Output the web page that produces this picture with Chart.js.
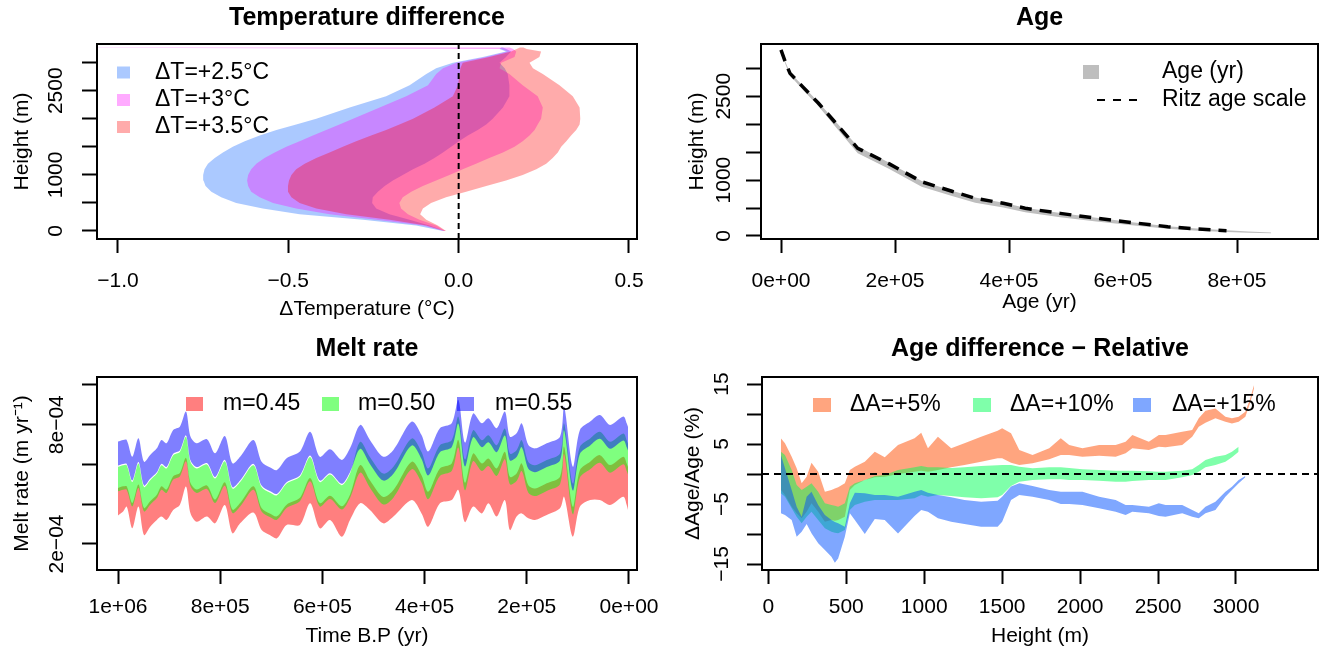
<!DOCTYPE html>
<html>
<head>
<meta charset="utf-8">
<title>Model output panels</title>
<script src="https://cdn.jsdelivr.net/npm/chart.js@4.4.1/dist/chart.umd.min.js"></script>
<style>
    body { margin: 0; background: #fff; }
    #page { position: relative; width: 1321px; height: 659px; background: #fff; }
    #page canvas { position: absolute; }
</style>
</head>
<body>
<div id="page">
    <canvas id="tempChart" width="660" height="330" style="left:0px; top:0px;"></canvas>
    <canvas id="ageChart" width="661" height="330" style="left:660px; top:0px;"></canvas>
    <canvas id="meltChart" width="660" height="329" style="left:0px; top:330px;"></canvas>
    <canvas id="diffChart" width="661" height="329" style="left:660px; top:330px;"></canvas>
</div>
<script>
// ---------- data ----------

// temperature difference (deg C) against height (m), lower / upper edge of each band
const tempHeights = [0, 100, 200, 300, 400, 500, 600, 700, 800, 900, 1000, 1100, 1200, 1300, 1400, 1500, 1600, 1700, 1800, 1900, 2000, 2200, 2400, 2600, 2800, 2900, 3000, 3100, 3200, 3245, 3270];
const dT25Low = [-0.046, -0.125, -0.281, -0.467, -0.575, -0.653, -0.697, -0.726, -0.743, -0.749, -0.750, -0.746, -0.736, -0.716, -0.692, -0.663, -0.628, -0.584, -0.535, -0.477, -0.418, -0.320, -0.213, -0.144, -0.095, -0.066, -0.017, 0.071, 0.139, 0.120, 0.125];
const dT25High = [-0.041, -0.086, -0.144, -0.203, -0.242, -0.254, -0.252, -0.237, -0.217, -0.193, -0.164, -0.134, -0.100, -0.071, -0.046, -0.022, 0.001, 0.027, 0.056, 0.081, 0.100, 0.130, 0.149, 0.149, 0.144, 0.135, 0.120, 0.139, 0.154, 0.140, 0.130];
const dT30Low = [-0.044, -0.105, -0.242, -0.379, -0.477, -0.545, -0.584, -0.609, -0.618, -0.621, -0.618, -0.609, -0.594, -0.570, -0.540, -0.506, -0.467, -0.428, -0.389, -0.350, -0.310, -0.232, -0.154, -0.090, -0.066, -0.046, -0.007, 0.081, 0.144, 0.125, -1.2];
const dT30High = [-0.039, -0.066, -0.115, -0.149, -0.169, -0.174, -0.164, -0.139, -0.105, -0.066, -0.027, 0.012, 0.051, 0.090, 0.130, 0.164, 0.188, 0.208, 0.223, 0.232, 0.242, 0.247, 0.232, 0.188, 0.149, 0.120, 0.125, 0.164, 0.169, 0.160, 0.150];
const dT35Low = [-0.041, -0.095, -0.203, -0.330, -0.418, -0.467, -0.491, -0.501, -0.501, -0.498, -0.491, -0.477, -0.452, -0.418, -0.379, -0.340, -0.301, -0.257, -0.213, -0.174, -0.134, -0.071, -0.017, -0.002, 0.003, 0.005, 0.012, 0.090, 0.154, 0.170, 0.180];
const dT35High = [-0.037, -0.061, -0.095, -0.113, -0.105, -0.081, -0.037, 0.022, 0.081, 0.139, 0.188, 0.228, 0.257, 0.276, 0.291, 0.301, 0.316, 0.330, 0.345, 0.355, 0.357, 0.355, 0.335, 0.296, 0.247, 0.218, 0.208, 0.237, 0.242, 0.200, 0.190];
const tempLabels = ['\u0394T=+2.5\u00b0C', '\u0394T=+3\u00b0C', '\u0394T=+3.5\u00b0C'];
const tempXTicks = [-1.0, -0.5, 0.0, 0.5];
const tempYTicks = [0, 500, 1000, 1500, 2000, 2500, 3000];
const tempYLabels = [0, 1000, 2500];
const tempRefLine = 0;

// age (yr) against height (m)
const ageYears = [0, 8000, 15800, 40000, 65800, 100000, 134600, 190000, 246800, 300000, 340800, 390000, 428400, 490000, 553200, 620000, 678500, 730000, 781600, 820000, 860000];
const ageHeightTop = [3335, 3110, 2925, 2670, 2395, 2000, 1600, 1310, 985, 810, 690, 595, 505, 412, 325, 243, 176, 132, 104, 80, 63];
const ageHeightBottom = [3320, 3070, 2870, 2600, 2320, 1900, 1480, 1200, 880, 715, 595, 510, 425, 335, 258, 190, 128, 92, 72, 58, 50];
const ritzYears = [0, 8000, 15800, 40000, 65800, 100000, 134600, 190000, 246800, 300000, 340800, 390000, 428400, 490000, 553200, 620000, 678500, 730000, 781600];
const ritzHeight = [3330, 3100, 2910, 2650, 2374, 1974, 1569, 1290, 971, 800, 674, 585, 496, 405, 317, 235, 167, 125, 95];
const ageXTicks = [0, 200000, 400000, 600000, 800000];
const ageYTicks = [0, 500, 1000, 1500, 2000, 2500, 3000];
const ageYLabels = [0, 1000, 2500];

// melt rate (m/yr) against time before present (yr)
const meltTime = [1000000, 990000, 983000, 972000, 960000, 949000, 937000, 924000, 915000, 905000, 892000, 879000, 867000, 858000, 846000, 826000, 810000, 791000, 776000, 761000, 735000, 719000, 703000, 689000, 670000, 644000, 624000, 605000, 585000, 562000, 546000, 526000, 507000, 481000, 461000, 425000, 406000, 393000, 370000, 347000, 334000, 321000, 305000, 288000, 275000, 259000, 243000, 233000, 220000, 210000, 197000, 184000, 161000, 135000, 127000, 110000, 96000, 76000, 57000, 37000, 11000, 4500, 2000];
const m45Low = [3.43e-4, 3.63e-4, 3.88e-4, 2.79e-4, 3.88e-4, 2.45e-4, 2.87e-4, 3.21e-4, 3.38e-4, 3.21e-4, 3.71e-4, 3.96e-4, 4.89e-4, 3.54e-4, 3.12e-4, 3.38e-4, 3.04e-4, 3.96e-4, 2.54e-4, 3.04e-4, 3.58e-4, 2.70e-4, 2.45e-4, 2.29e-4, 2.96e-4, 2.96e-4, 4.05e-4, 2.79e-4, 3.21e-4, 2.37e-4, 3.21e-4, 4.05e-4, 3.71e-4, 3.04e-4, 3.38e-4, 4.21e-4, 3.54e-4, 2.87e-4, 4.05e-4, 4.21e-4, 4.72e-4, 3.10e-4, 3.88e-4, 3.54e-4, 4.05e-4, 3.38e-4, 4.21e-4, 2.70e-4, 3.38e-4, 3.54e-4, 3.29e-4, 3.21e-4, 3.46e-4, 3.80e-4, 4.38e-4, 2.37e-4, 3.88e-4, 4.21e-4, 4.21e-4, 3.96e-4, 4.38e-4, 3.96e-4, 3.71e-4];
const m45High = [4.82e-4, 4.90e-4, 4.90e-4, 4.06e-4, 4.99e-4, 3.81e-4, 4.15e-4, 4.48e-4, 4.90e-4, 4.74e-4, 5.41e-4, 5.57e-4, 6.33e-4, 5.07e-4, 4.74e-4, 4.94e-4, 4.23e-4, 5.10e-4, 3.73e-4, 4.06e-4, 4.90e-4, 3.81e-4, 3.53e-4, 3.39e-4, 3.98e-4, 4.32e-4, 5.32e-4, 4.06e-4, 4.43e-4, 3.90e-4, 4.48e-4, 5.97e-4, 5.21e-4, 4.37e-4, 4.71e-4, 6.14e-4, 5.46e-4, 4.63e-4, 5.80e-4, 6.05e-4, 7.23e-4, 5.08e-4, 6.55e-4, 6.05e-4, 6.30e-4, 5.80e-4, 6.64e-4, 5.38e-4, 5.55e-4, 6.05e-4, 4.96e-4, 4.79e-4, 5.05e-4, 5.38e-4, 6.89e-4, 3.87e-4, 5.72e-4, 6.14e-4, 6.47e-4, 5.97e-4, 6.39e-4, 6.05e-4, 5.88e-4];
const m50Low = [4.65e-4, 4.73e-4, 4.73e-4, 3.89e-4, 4.82e-4, 3.64e-4, 3.98e-4, 4.31e-4, 4.73e-4, 4.57e-4, 5.24e-4, 5.40e-4, 6.16e-4, 4.90e-4, 4.57e-4, 4.77e-4, 4.06e-4, 4.93e-4, 3.56e-4, 3.89e-4, 4.73e-4, 3.64e-4, 3.36e-4, 3.22e-4, 3.81e-4, 4.15e-4, 5.15e-4, 3.89e-4, 4.26e-4, 3.73e-4, 4.31e-4, 5.59e-4, 4.83e-4, 3.99e-4, 4.33e-4, 5.76e-4, 5.08e-4, 4.25e-4, 5.42e-4, 5.67e-4, 6.85e-4, 4.70e-4, 6.17e-4, 5.67e-4, 5.92e-4, 5.42e-4, 6.26e-4, 5.00e-4, 5.17e-4, 5.67e-4, 4.58e-4, 4.41e-4, 4.67e-4, 5.00e-4, 6.51e-4, 3.49e-4, 5.34e-4, 5.76e-4, 6.09e-4, 5.59e-4, 6.01e-4, 5.67e-4, 5.50e-4];
const m50High = [5.88e-4, 5.96e-4, 5.96e-4, 5.12e-4, 6.05e-4, 4.87e-4, 5.21e-4, 5.54e-4, 5.96e-4, 5.80e-4, 6.47e-4, 6.63e-4, 7.39e-4, 6.13e-4, 5.80e-4, 6.00e-4, 5.29e-4, 6.16e-4, 4.79e-4, 5.12e-4, 5.96e-4, 4.87e-4, 4.59e-4, 4.45e-4, 5.04e-4, 5.38e-4, 6.38e-4, 5.12e-4, 5.49e-4, 4.96e-4, 5.54e-4, 7.14e-4, 6.38e-4, 5.54e-4, 5.88e-4, 7.31e-4, 6.63e-4, 5.80e-4, 6.97e-4, 7.22e-4, 8.40e-4, 6.25e-4, 7.72e-4, 7.22e-4, 7.47e-4, 6.97e-4, 7.81e-4, 6.55e-4, 6.72e-4, 7.22e-4, 6.13e-4, 5.96e-4, 6.22e-4, 6.55e-4, 8.06e-4, 5.04e-4, 6.89e-4, 7.31e-4, 7.64e-4, 7.14e-4, 7.56e-4, 7.22e-4, 7.05e-4];
const m55Low = [5.95e-4, 6.03e-4, 6.03e-4, 5.19e-4, 6.12e-4, 4.94e-4, 5.28e-4, 5.61e-4, 6.03e-4, 5.87e-4, 6.54e-4, 6.70e-4, 7.46e-4, 6.20e-4, 5.87e-4, 6.07e-4, 5.36e-4, 6.23e-4, 4.86e-4, 5.19e-4, 6.03e-4, 4.94e-4, 4.66e-4, 4.52e-4, 5.11e-4, 5.45e-4, 6.45e-4, 5.19e-4, 5.56e-4, 5.03e-4, 5.61e-4, 6.79e-4, 6.03e-4, 5.19e-4, 5.53e-4, 6.96e-4, 6.28e-4, 5.45e-4, 6.62e-4, 6.87e-4, 8.05e-4, 5.90e-4, 7.37e-4, 6.87e-4, 7.12e-4, 6.62e-4, 7.46e-4, 6.20e-4, 6.37e-4, 6.87e-4, 5.78e-4, 5.61e-4, 5.87e-4, 6.20e-4, 7.71e-4, 4.69e-4, 6.54e-4, 6.96e-4, 7.29e-4, 6.79e-4, 7.21e-4, 6.87e-4, 6.70e-4];
const m55High = [7.15e-4, 7.23e-4, 7.23e-4, 6.39e-4, 7.32e-4, 6.14e-4, 6.48e-4, 6.81e-4, 7.23e-4, 7.07e-4, 7.74e-4, 7.90e-4, 8.66e-4, 7.40e-4, 7.07e-4, 7.27e-4, 6.56e-4, 7.43e-4, 6.06e-4, 6.39e-4, 7.23e-4, 6.14e-4, 5.86e-4, 5.72e-4, 6.31e-4, 6.65e-4, 7.65e-4, 6.39e-4, 6.76e-4, 6.23e-4, 6.81e-4, 7.99e-4, 7.23e-4, 6.39e-4, 6.73e-4, 8.16e-4, 7.48e-4, 6.65e-4, 7.82e-4, 8.07e-4, 9.25e-4, 7.10e-4, 8.57e-4, 8.07e-4, 8.32e-4, 7.82e-4, 8.66e-4, 7.40e-4, 7.57e-4, 8.07e-4, 6.98e-4, 6.81e-4, 7.07e-4, 7.40e-4, 8.91e-4, 5.89e-4, 7.74e-4, 8.16e-4, 8.49e-4, 7.99e-4, 8.41e-4, 8.07e-4, 7.90e-4];
const meltLabels = ['m=0.45', 'm=0.50', 'm=0.55'];
const meltXTicks = [1000000, 800000, 600000, 400000, 200000, 0];
const meltYTicks = [2e-4, 4e-4, 6e-4, 8e-4, 10e-4];
const meltYLabels = [2e-4, 8e-4];

// relative age difference (%) against height (m)
const diffHeights = [81, 107, 150, 182, 214, 246, 277, 320, 363, 405, 427, 448, 491, 523, 555, 619, 683, 747, 832, 938, 981, 1024, 1088, 1173, 1258, 1365, 1471, 1500, 1557, 1610, 1695, 1802, 1876, 1930, 2015, 2122, 2228, 2292, 2335, 2441, 2505, 2548, 2655, 2719, 2761, 2804, 2868, 2932, 2974, 3017, 3060, 3090, 3115];
const dA5Low = [-2.67, -3.5, -5.44, -6.56, -7.39, -6.28, -4.89, -6.28, -7.94, -7.67, -7.8, -7.67, -7.11, -2.67, -1.83, -1.0, -0.56, -0.44, 0.0, 0.39, 0.56, 0.39, 0.67, 1.11, 1.5, 2.06, 2.61, 2.61, 1.89, 1.5, 1.78, 2.44, 3.17, 3.17, 2.89, 3.06, 2.89, 3.44, 4.28, 4.0, 4.56, 4.44, 4.83, 6.22, 7.89, 8.56, 9.28, 8.72, 8.44, 8.72, 9.56, 11.8, 14.2];
const dA5High = [5.94, 5.11, 2.89, 0.94, -1.56, -0.44, 1.89, 0.39, -2.94, -2.67, -2.4, -2.22, -1.56, 0.67, 1.22, 2.06, 3.72, 2.78, 4.83, 5.94, 6.89, 4.28, 6.22, 4.28, 5.11, 6.22, 7.22, 7.61, 6.78, 4.0, 3.17, 4.28, 5.94, 4.83, 4.28, 4.83, 4.83, 5.39, 6.5, 5.39, 6.5, 6.5, 7.06, 7.33, 9.28, 10.56, 10.94, 9.56, 9.28, 9.56, 10.39, 12.5, 14.8];
const dA10Low = [-3.22, -3.78, -5.72, -7.11, -8.22, -7.11, -6.28, -7.67, -9.06, -9.61, -9.8, -9.89, -9.33, -6.0, -5.17, -4.61, -4.33, -4.33, -4.33, -4.06, -3.5, -3.78, -3.5, -3.67, -3.89, -4.06, -3.89, -3.5, -2.0, -1.28, -1.0, -0.89, -0.89, -1.0, -1.0, -1.11, -1.28, -1.28, -1.17, -1.0, -1.0, -1.0, -0.56, -0.17, 0.39, 1.11, 1.5, 2.06, 2.78, 3.72, null, null, null];
const dA10High = [3.72, 3.17, 0.67, -1.83, -2.67, -2.11, -1.56, -2.94, -4.89, -5.17, -5.3, -5.44, -4.89, -2.11, -1.56, -1.0, -0.33, -0.17, 0.67, 1.11, 1.33, 1.11, 1.11, 1.0, 1.11, 1.33, 1.44, 1.5, 1.5, 1.22, 0.94, 1.11, 1.11, 1.0, 0.78, 0.67, 0.56, 0.56, 0.56, 0.44, 0.39, 0.39, 0.56, 0.78, 1.5, 2.33, 2.89, 3.17, 3.72, 4.56, null, null, null];
const dA15Low = [-6.56, -6.83, -7.67, -10.44, -9.61, -8.33, -9.89, -11.56, -12.67, -13.8, -14.8, -14.1, -10.44, -6.56, -7.67, -10.0, -7.5, -7.67, -9.9, -7.0, -6.0, -6.28, -7.39, -7.94, -8.33, -8.78, -8.78, -7.94, -4.33, -3.5, -3.78, -4.33, -5.0, -5.0, -5.17, -5.72, -6.28, -6.83, -6.28, -6.56, -7.0, -7.11, -6.56, -7.11, -7.39, -6.56, -6.0, -3.78, -2.67, -1.56, -0.56, null, null];
const dA15High = [3.17, 0.94, -2.67, -5.44, -7.11, -3.78, -2.94, -5.17, -6.83, -7.67, -8.0, -8.22, -8.78, -4.89, -3.11, -3.22, -3.5, -3.5, -3.78, -2.94, -2.67, -3.11, -3.5, -3.89, -4.33, -4.61, -4.44, -3.78, -2.1, -1.56, -2.0, -2.67, -2.94, -2.94, -2.94, -3.78, -4.33, -5.17, -5.17, -5.44, -4.89, -5.17, -5.17, -6.0, -6.56, -5.44, -4.61, -2.94, -2.11, -1.0, -0.33, null, null];
const diffLabels = ['\u0394A=+5%', '\u0394A=+10%', '\u0394A=+15%'];
const diffXTicks = [0, 500, 1000, 1500, 2000, 2500, 3000];
const diffYTicks = [-15, -10, -5, 0, 5, 10, 15];
const diffYLabels = [-15, -5, 5, 15];
const diffRefLine = 0;

// ---------- shared look ----------
const MINUS = '\u2212';
const FONT = '"Liberation Sans", Arial, Helvetica, sans-serif';
Chart.defaults.font.family = FONT;
Chart.defaults.font.size = 21;
Chart.defaults.color = '#000';
Chart.defaults.responsive = false;
Chart.defaults.animation = false;
Chart.defaults.plugins.legend.display = false;
Chart.defaults.plugins.tooltip.enabled = false;
Chart.defaults.elements.point.radius = 0;
Chart.defaults.elements.line.borderWidth = 0;

const tempColors = ['rgba(0, 90, 255, 0.33)', 'rgba(255, 0, 255, 0.33)', 'rgba(255, 0, 0, 0.33)'];
const meltColors = ['rgba(255, 0, 0, 0.5)', 'rgba(0, 255, 0, 0.5)', 'rgba(0, 0, 255, 0.5)'];
const diffColors = ['rgba(255, 76, 0, 0.5)', 'rgba(0, 255, 85, 0.5)', 'rgba(0, 80, 255, 0.5)'];
const NONE = 'rgba(0, 0, 0, 0)';

function sciLabel(v) {
    const parts = v.toExponential(0).split('e');
    const exp = parts[1];
    return parts[0] + 'e' + (exp[0] === '-' ? MINUS : '+') + exp.slice(1).padStart(2, '0');
}
function minusLabel(s) {
    return String(s).replace('-', MINUS);
}
function edge(xs, ys) {
    return xs.map((x, i) => ({ x: x, y: ys[i] }));
}
// closed outline: left edge going up, right edge coming back down
function outline(heights, left, right) {
    const pts = heights.map((h, i) => ({ x: left[i], y: h }));
    for (let i = heights.length - 1; i >= 0; i--) {
        pts.push({ x: right[i], y: heights[i] });
    }
    return pts;
}

function mainTitle(text, top, bottom) {
    return { display: true, text: text, fullSize: false, color: '#000',
        font: { size: 25, weight: 'bold' }, padding: { top: top, bottom: bottom } };
}
function xAxis(o) {
    return {
        type: 'linear', position: 'bottom', min: o.min, max: o.max, reverse: !!o.reverse,
        afterBuildTicks: s => { s.ticks = o.ticks.map(v => ({ value: v })); },
        afterFit: s => { s.height = o.size; s.paddingLeft = 0; s.paddingRight = 0; },
        grid: { drawOnChartArea: false, tickLength: 14, tickWidth: 2, tickColor: '#000' },
        border: { display: false },
        ticks: { autoSkip: false, maxRotation: 0, minRotation: 0, padding: o.pad, callback: o.format },
        title: { display: true, text: o.title, padding: { top: 0, bottom: o.titlePad } }
    };
}
function yAxis(o) {
    return {
        type: 'linear', position: 'left', min: o.min, max: o.max,
        afterBuildTicks: s => { s.ticks = o.ticks.map(v => ({ value: v })); },
        afterFit: s => { s.width = o.size; s.paddingTop = 0; s.paddingBottom = 0; },
        grid: { drawOnChartArea: false, tickLength: 15, tickWidth: 2, tickColor: '#000' },
        border: { display: false },
        ticks: { autoSkip: false, maxRotation: 90, minRotation: 90, crossAlign: 'center', padding: o.pad, callback: o.format },
        title: { display: true, text: o.title, padding: { top: o.titlePad, bottom: 0 } }
    };
}

// box round the plot region
const plotFrame = {
    id: 'plotFrame',
    afterDraw(chart) {
        const { ctx, chartArea } = chart;
        ctx.save();
        ctx.strokeStyle = '#000';
        ctx.lineWidth = 2;
        ctx.strokeRect(chartArea.left, chartArea.top, chartArea.right - chartArea.left, chartArea.bottom - chartArea.top);
        ctx.restore();
    }
};
Chart.register(plotFrame);

// legend drawn inside the plot, R style
function boxLegend(items) {
    return {
        id: 'boxLegend',
        afterDraw(chart) {
            const ctx = chart.ctx;
            ctx.save();
            ctx.font = '23px ' + FONT;
            ctx.textBaseline = 'middle';
            items.forEach(it => {
                if (it.dash) {
                    ctx.strokeStyle = it.color;
                    ctx.lineWidth = 2;
                    ctx.setLineDash(it.dash);
                    ctx.beginPath();
                    ctx.moveTo(it.x, it.y);
                    ctx.lineTo(it.x + it.w, it.y);
                    ctx.stroke();
                    ctx.setLineDash([]);
                } else {
                    ctx.fillStyle = it.color;
                    ctx.fillRect(it.x, it.y - it.h / 2, it.w, it.h);
                }
                ctx.fillStyle = '#000';
                ctx.fillText(it.label, it.tx, it.y);
            });
            ctx.restore();
        }
    };
}

//temperature difference chart start
const tempYMin = -142.6, tempYMax = 3333;
const tempData = {
    datasets: [
        { label: tempLabels[0], data: outline(tempHeights, dT25Low, dT25High), fill: 'shape',
          backgroundColor: tempColors[0], borderColor: NONE, order: 3 },
        { label: tempLabels[1], data: outline(tempHeights, dT30Low, dT30High), fill: 'shape',
          backgroundColor: tempColors[1], borderColor: NONE, order: 2 },
        { label: tempLabels[2], data: outline(tempHeights, dT35Low, dT35High), fill: 'shape',
          backgroundColor: tempColors[2], borderColor: NONE, order: 1 },
        { label: 'zero', data: [{ x: tempRefLine, y: tempYMin }, { x: tempRefLine, y: tempYMax }],
          borderColor: '#000', borderWidth: 2, borderDash: [6, 4], fill: false, order: 0 }
    ]
};
const tempConfig = {
    type: 'line',
    data: tempData,
    options: {
        layout: { padding: { left: 0, right: 23, top: 0, bottom: 0 } },
        plugins: { title: mainTitle('Temperature difference', 3, 11) },
        scales: {
            x: xAxis({ min: -1.0616, max: 0.5235, ticks: tempXTicks, size: 91, pad: 15.4, titlePad: 8.4,
                       title: '\u0394Temperature (\u00b0C)', format: v => minusLabel(v.toFixed(1)) }),
            y: yAxis({ min: tempYMin, max: tempYMax, ticks: tempYTicks, size: 97, pad: 2.6, titlePad: 9.4,
                       title: 'Height (m)', format: v => tempYLabels.includes(v) ? String(v) : '' })
        }
    },
    plugins: [boxLegend([
        { label: tempLabels[0], color: tempColors[0], x: 117, y: 72.5, w: 13, h: 12, tx: 155 },
        { label: tempLabels[1], color: tempColors[1], x: 117, y: 100, w: 13, h: 12, tx: 155 },
        { label: tempLabels[2], color: tempColors[2], x: 117, y: 127, w: 13, h: 12, tx: 155 }
    ])]
};
const tempChart = new Chart(document.getElementById('tempChart'), tempConfig);
//temperature difference chart end

//age chart start
const ageConfig = {
    type: 'line',
    data: {
        datasets: [
            { label: 'age low', data: edge(ageYears, ageHeightBottom), borderColor: NONE, fill: false, order: 1 },
            { label: 'Age (yr)', data: edge(ageYears, ageHeightTop), borderColor: NONE,
              backgroundColor: '#BEBEBE', fill: '-1', order: 1 },
            { label: 'Ritz age scale', data: edge(ritzYears, ritzHeight), borderColor: '#000',
              borderWidth: 3.5, borderDash: [12, 8], fill: false, order: 0 }
        ]
    },
    options: {
        layout: { padding: { left: 0, right: 3, top: 0, bottom: 0 } },
        plugins: { title: mainTitle('Age', 3, 11) },
        scales: {
            x: xAxis({ min: -35088, max: 942105, ticks: ageXTicks, size: 91, pad: 15.4, titlePad: 15.4,
                       title: 'Age (yr)', format: v => sciLabel(v) }),
            y: yAxis({ min: -53.7, max: 3435, ticks: ageYTicks, size: 101, pad: -1.3, titlePad: 24.4,
                       title: 'Height (m)', format: v => ageYLabels.includes(v) ? String(v) : '' })
        }
    },
    plugins: [boxLegend([
        { label: 'Age (yr)', color: '#BEBEBE', x: 423, y: 72, w: 16, h: 14, tx: 502 },
        { label: 'Ritz age scale', color: '#000', dash: [8, 8], x: 437, y: 100, w: 43, tx: 502 }
    ])]
};
const ageChart = new Chart(document.getElementById('ageChart'), ageConfig);
//age chart end

//melt rate chart start
const meltConfig = {
    type: 'line',
    data: {
        datasets: [
            { label: 'm45 low', data: edge(meltTime, m45Low), borderColor: NONE, fill: false, order: 3 },
            { label: meltLabels[0], data: edge(meltTime, m45High), borderColor: NONE,
              backgroundColor: meltColors[0], fill: '-1', order: 3 },
            { label: 'm50 low', data: edge(meltTime, m50Low), borderColor: NONE, fill: false, order: 2 },
            { label: meltLabels[1], data: edge(meltTime, m50High), borderColor: NONE,
              backgroundColor: meltColors[1], fill: '-1', order: 2 },
            { label: 'm55 low', data: edge(meltTime, m55Low), borderColor: NONE, fill: false, order: 1 },
            { label: meltLabels[2], data: edge(meltTime, m55High), borderColor: NONE,
              backgroundColor: meltColors[2], fill: '-1', order: 1 }
        ]
    },
    options: {
        elements: { line: { tension: 0.3 } },
        layout: { padding: { left: 0, right: 23, top: 0, bottom: 0 } },
        plugins: { title: mainTitle('Melt rate', 4, 13) },
        scales: {
            x: xAxis({ min: -15656, max: 1041100, reverse: true, ticks: meltXTicks, size: 89, pad: 10.4, titlePad: 10.4,
                       title: 'Time B.P (yr)', format: v => sciLabel(v) }),
            y: yAxis({ min: 6.92e-5, max: 1.040e-3, ticks: meltYTicks, size: 97, pad: -4.5, titlePad: 9.4,
                       title: 'Melt rate (m yr\u207b\u00b9)', format: v => meltYLabels.includes(v) ? sciLabel(v) : '' })
        }
    },
    plugins: [boxLegend([
        { label: meltLabels[0], color: meltColors[0], x: 186, y: 74, w: 17, h: 14, tx: 223 },
        { label: meltLabels[1], color: meltColors[1], x: 322, y: 74, w: 17, h: 14, tx: 358 },
        { label: meltLabels[2], color: meltColors[2], x: 457, y: 74, w: 17, h: 14, tx: 495 }
    ])]
};
const meltChart = new Chart(document.getElementById('meltChart'), meltConfig);
//melt rate chart end

//age difference chart start
const diffConfig = {
    type: 'line',
    data: {
        datasets: [
            { label: 'dA5 low', data: edge(diffHeights, dA5Low), borderColor: NONE, fill: false, order: 3 },
            { label: diffLabels[0], data: edge(diffHeights, dA5High), borderColor: NONE,
              backgroundColor: diffColors[0], fill: '-1', order: 3 },
            { label: 'dA10 low', data: edge(diffHeights, dA10Low), borderColor: NONE, fill: false, order: 2 },
            { label: diffLabels[1], data: edge(diffHeights, dA10High), borderColor: NONE,
              backgroundColor: diffColors[1], fill: '-1', order: 2 },
            { label: 'dA15 low', data: edge(diffHeights, dA15Low), borderColor: NONE, fill: false, order: 1 },
            { label: diffLabels[2], data: edge(diffHeights, dA15High), borderColor: NONE,
              backgroundColor: diffColors[2], fill: '-1', order: 1 },
            { label: 'zero', data: [{ x: -40.4, y: diffRefLine }, { x: 3526, y: diffRefLine }],
              borderColor: '#000', borderWidth: 2, borderDash: [7, 5], fill: false, order: 0 }
        ]
    },
    options: {
        layout: { padding: { left: 0, right: 3, top: 0, bottom: 0 } },
        plugins: { title: mainTitle('Age difference \u2212 Relative', 4, 13) },
        scales: {
            x: xAxis({ min: -40.4, max: 3526, ticks: diffXTicks, size: 89, pad: 10.4, titlePad: 10.4,
                       title: 'Height (m)', format: v => String(v) }),
            y: yAxis({ min: -16.0, max: 16.17, ticks: diffYTicks, size: 102, pad: 7.2, titlePad: 20.4,
                       title: '\u0394Age/Age (%)', format: v => diffYLabels.includes(v) ? minusLabel(v) : '' })
        }
    },
    plugins: [boxLegend([
        { label: diffLabels[0], color: diffColors[0], x: 153, y: 75, w: 18, h: 14, tx: 190 },
        { label: diffLabels[1], color: diffColors[1], x: 313, y: 75, w: 18, h: 14, tx: 350 },
        { label: diffLabels[2], color: diffColors[2], x: 473, y: 75, w: 18, h: 14, tx: 512 }
    ])]
};
const diffChart = new Chart(document.getElementById('diffChart'), diffConfig);
//age difference chart end
</script>
</body>
</html>
